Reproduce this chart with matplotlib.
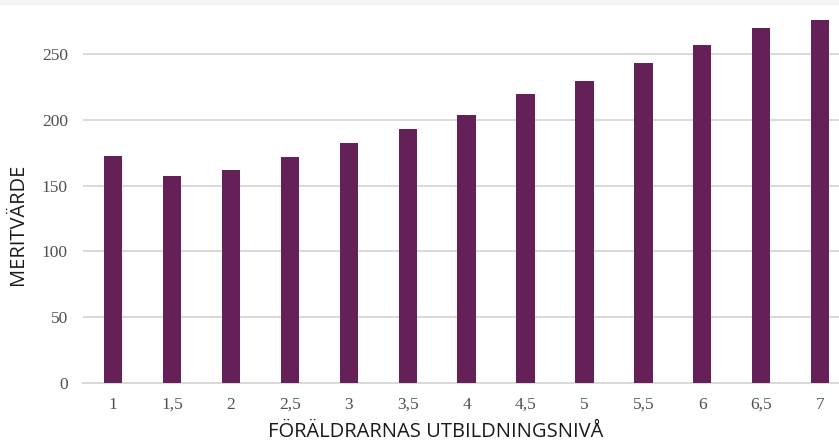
import matplotlib.pyplot as plt
import numpy as np
from matplotlib.patches import Rectangle

levels = ["1", "1,5", "2", "2,5", "3", "3,5", "4", "4,5", "5", "5,5", "6", "6,5", "7"]
merit = [172.5, 157.5, 162, 171.5, 182, 193, 203.5, 219.5, 229.5, 243, 256.5, 269.5, 276]
yticks = [0, 50, 100, 150, 200, 250]

bar_color = "#652058"
grid_color = "#d9d9d9"

fig = plt.figure(figsize=(8.39, 4.44), dpi=100)
fig.patches.append(Rectangle((0, 0.99), 1, 0.01, transform=fig.transFigure,
                             color="#f4f6f6", zorder=0))
ax = fig.add_axes([0.099, 0.1374, 0.901, 0.8626])
ax.patch.set_alpha(0)

x = np.arange(len(levels))
ax.bar(x, merit, width=0.31, color=bar_color, zorder=3)

ax.set_xlim(-0.51, len(levels) - 1 + 0.32)
ax.set_ylim(0, 291)
ax.set_yticks(yticks)
ax.set_xticks(x)
ax.set_xticklabels(levels)

ax.grid(axis="y", color=grid_color, linewidth=1.4, zorder=0)
for side in ["top", "right", "left"]:
    ax.spines[side].set_visible(False)
ax.spines["bottom"].set_color(grid_color)
ax.spines["bottom"].set_linewidth(1.4)
ax.tick_params(axis="both", length=0, labelsize=12.5, labelcolor="#505050")
ax.tick_params(axis="y", pad=11)
ax.tick_params(axis="x", pad=10)
for lab in ax.get_xticklabels() + ax.get_yticklabels():
    lab.set_fontfamily("Liberation Serif")

ax.set_xlabel("FÖRÄLDRARNAS UTBILDNINGSNIVÅ", fontfamily="Open Sans", fontsize=14.5,
              color="#1a1a1a")
ax.xaxis.label.set_va("center")
ax.xaxis.set_label_coords(0.466, -0.129)
ax.set_ylabel("MERITVÄRDE", fontfamily="Open Sans", fontsize=14.5, color="#1a1a1a")
ax.yaxis.label.set_va("center")
ax.yaxis.set_label_coords(-0.086, 0.415)

fig.savefig("out.png", dpi=100)
